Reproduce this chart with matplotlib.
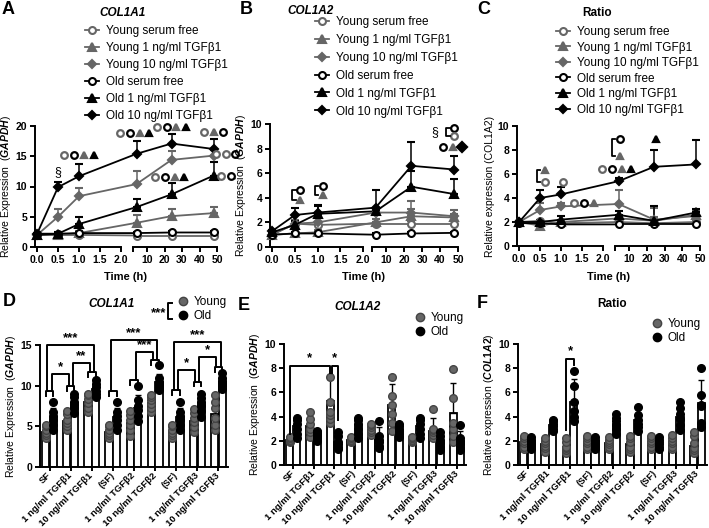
import numpy as np
import matplotlib
matplotlib.use("Agg")
import matplotlib.pyplot as plt
from matplotlib.lines import Line2D
from matplotlib.patches import ConnectionPatch

plt.rcParams['font.family'] = ['Liberation Sans', 'DejaVu Sans']
plt.rcParams['font.weight'] = 'bold'
plt.rcParams['mathtext.fontset'] = 'custom'
plt.rcParams['mathtext.rm'] = 'Liberation Sans:bold'
plt.rcParams['mathtext.bf'] = 'Liberation Sans:bold'
plt.rcParams['mathtext.it'] = 'Liberation Sans:italic:bold'
plt.rcParams['axes.linewidth'] = 1.4
plt.rcParams['xtick.major.width'] = 1.4
plt.rcParams['ytick.major.width'] = 1.4
plt.rcParams['xtick.major.size'] = 3.5
plt.rcParams['ytick.major.size'] = 3.5
plt.rcParams['xtick.major.pad'] = 2
plt.rcParams['ytick.major.pad'] = 2

YOUNG = '#666666'
OLD = 'black'

# ---------------- time course data (panels A-C) ----------------
times = [0, 0.5, 1, 4, 24, 48]
series_labels = ['Young serum free', 'Young 1 ng/ml TGFβ1', 'Young 10 ng/ml TGFβ1',
                 'Old serum free', 'Old 1 ng/ml TGFβ1', 'Old 10 ng/ml TGFβ1']

# A: COL1A1
a_young_sf = [2.0, 2.0, 2.0, 1.9, 1.9, 1.9]
a_young_sf_err = [0.1, 0.1, 0.1, 0.1, 0.1, 0.1]
a_young_1 = [2.0, 2.0, 2.3, 4.0, 5.1, 5.6]
a_young_1_err = [0.1, 0.2, 0.3, 1.3, 1.1, 1.0]
a_young_10 = [2.0, 5.0, 8.4, 10.4, 14.4, 15.1]
a_young_10_err = [0.1, 1.3, 1.4, 2.2, 1.4, 0.9]
a_old_sf = [2.2, 2.2, 2.3, 2.3, 2.4, 2.4]
a_old_sf_err = [0.1, 0.1, 0.2, 0.1, 0.2, 0.2]
a_old_1 = [2.0, 2.2, 3.8, 6.6, 8.7, 11.8]
a_old_1_err = [0.1, 0.2, 1.2, 1.4, 1.8, 2.2]
a_old_10 = [2.2, 9.9, 11.7, 15.4, 17.1, 16.2]
a_old_10_err = [0.1, 0.9, 2.1, 2.2, 1.6, 1.6]

# B: COL1A2
b_young_sf = [1.0, 1.9, 1.8, 1.9, 1.9, 1.9]
b_young_sf_err = [0.1, 0.2, 0.2, 0.1, 0.2, 0.2]
b_young_1 = [1.0, 1.1, 1.2, 2.0, 2.5, 2.4]
b_young_1_err = [0.1, 0.1, 0.2, 0.3, 0.6, 0.3]
b_young_10 = [1.0, 1.9, 2.0, 2.8, 2.8, 2.5]
b_young_10_err = [0.1, 0.3, 0.5, 0.2, 0.9, 0.5]
b_old_sf = [1.0, 1.1, 1.1, 1.0, 1.1, 1.15]
b_old_sf_err = [0.1, 0.1, 0.1, 0.1, 0.1, 0.1]
b_old_1 = [1.2, 1.8, 2.7, 2.9, 4.9, 4.3]
b_old_1_err = [0.1, 0.3, 0.6, 0.3, 1.3, 1.2]
b_old_10 = [1.3, 2.6, 2.8, 3.2, 6.6, 6.3]
b_old_10_err = [0.1, 0.6, 0.6, 1.4, 1.9, 1.1]

# C: ratio
c_young_sf = [2.0, 2.1, 1.9, 2.0, 1.9, 2.0]
c_young_sf_err = [0.1, 0.1, 0.1, 0.1, 0.1, 0.1]
c_young_1 = [2.0, 1.7, 2.0, 2.3, 2.1, 2.6]
c_young_1_err = [0.1, 0.2, 0.2, 0.2, 0.3, 0.3]
c_young_10 = [2.0, 3.0, 3.3, 3.5, 2.2, 2.5]
c_young_10_err = [0.1, 0.6, 0.3, 1.2, 1.0, 0.4]
c_old_sf = [1.9, 1.9, 1.8, 1.8, 1.8, 1.8]
c_old_sf_err = [0.1, 0.1, 0.1, 0.1, 0.1, 0.1]
c_old_1 = [2.0, 2.0, 2.2, 2.6, 2.1, 2.8]
c_old_1_err = [0.1, 0.2, 0.3, 0.3, 1.2, 0.3]
c_old_10 = [2.0, 4.0, 4.3, 5.4, 6.6, 6.8]
c_old_10_err = [0.1, 0.7, 0.6, 0.3, 1.4, 2.0]

# annotation symbols: c/C grey/black circle, t/T grey/black triangle, D black diamond
a_marks = [('L', 1.0, 15.2, 'cCtT'), ('R', 3.0, 18.8, 'cCtT'), ('R', 24, 19.9, 'cCtT'),
           ('R', 48, 19.0, 'ctC'), ('R', 55, 15.3, 'ccC'), ('R', 55, 11.8, 'cC'),
           ('R', 23, 11.5, 'cCtT')]
b_marks = [('L', 0.62, 4.6, 'C'), ('L', 0.62, 3.8, 't'), ('L', 1.12, 5.0, 'C'),
           ('L', 1.12, 4.2, 't'), ('R', 48, 9.7, 'C'), ('R', 48, 9.0, 'c'),
           ('R', 47, 8.1, 'CtD')]
b_brackets = [('L', 0.62, 3.8, 4.6), ('L', 1.12, 4.2, 5.0), ('R', 48, 9.0, 9.7)]
c_marks = [('L', 0.62, 6.3, 't'), ('L', 0.62, 5.3, 'c'), ('L', 1.05, 5.3, 'c'),
           ('L', 1.55, 3.6, 'cCt'), ('R', 5.0, 8.9, 'C'), ('R', 5.0, 7.5, 't'),
           ('R', 3.0, 6.45, 'cCtT'), ('R', 25, 8.9, 'T')]
c_brackets = [('L', 0.62, 5.3, 6.3), ('R', 5.0, 7.5, 8.9)]

# ---------------- bar data (panels D-F) ----------------
groups = ['SF', '1 ng/ml TGFβ1', '10 ng/ml TGFβ1', '(SF)', '1 ng/ml TGFβ2',
          '10 ng/ml TGFβ2', '(SF)', '1 ng/ml TGFβ3', '10 ng/ml TGFβ3']

d_sf_y = [3.6, 3.9, 4.2, 4.5, 5.0, 5.2]
d_sf_o = [4.6, 5.2, 5.8, 6.3, 6.8, 8.0]
d_young = [d_sf_y, [4.5, 5.0, 5.4, 5.8, 6.5, 6.9], [6.8, 7.3, 7.9, 8.3, 8.8, 9.0],
           d_sf_y, [3.8, 4.5, 5.2, 5.8, 6.4, 6.9], [6.8, 7.3, 7.8, 8.2, 8.6, 8.8],
           d_sf_y, [4.3, 4.9, 5.5, 6.0, 6.6, 7.1], [4.5, 5.2, 6.0, 7.2, 8.0, 8.8]]
d_old = [d_sf_o, [6.6, 7.2, 7.6, 8.0, 8.6, 9.0], [8.6, 9.0, 9.4, 9.8, 10.2, 10.7],
         d_sf_o, [5.6, 6.3, 7.0, 7.5, 8.2, 9.9], [9.5, 9.8, 10.1, 10.4, 10.9, 12.5],
         d_sf_o, [6.2, 6.9, 7.5, 8.0, 8.5, 9.0], [9.6, 10.0, 10.3, 10.6, 11.0, 11.6]]
d_young_mean = [4.3, 5.6, 8.0, 4.3, 5.4, 7.9, 4.3, 5.7, 6.5]
d_young_sd = [0.6, 0.9, 0.8, 0.6, 1.1, 0.7, 0.6, 1.0, 1.6]
d_old_mean = [6.1, 7.7, 9.6, 6.1, 7.3, 10.4, 6.1, 7.7, 10.5]
d_old_sd = [1.1, 0.9, 0.8, 1.1, 1.5, 1.0, 1.1, 1.0, 0.7]
d_pair_h = [9.3, 10.0, 11.7, 9.3, 10.7, 13.2, 9.5, 10.5, 12.3]
d_comps = [(0, 2, 15.0, '***'), (0, 1, 11.4, '*'), (1, 2, 12.8, '**'),
           (3, 5, 15.6, '***'), (4, 5, 14.1, '***'),
           (6, 8, 15.4, '***'), (6, 7, 11.9, '*'), (7, 8, 13.5, '*')]

e_sf_y = [1.9, 2.0, 2.1, 2.2, 2.2, 2.3]
e_sf_o = [2.2, 2.6, 3.0, 3.4, 3.7, 3.9]
e_young = [e_sf_y, [2.3, 2.7, 3.0, 3.4, 3.8, 4.4], [3.5, 3.8, 4.1, 4.4, 5.2, 7.3],
           e_sf_y, [2.5, 2.7, 2.9, 3.1, 3.3, 3.4], [2.8, 3.5, 4.2, 5.0, 5.7, 7.3],
           e_sf_y, [2.2, 2.5, 2.7, 2.9, 3.0, 4.6], [1.9, 2.4, 3.0, 3.5, 5.5, 7.9]]
e_old = [e_sf_o, [2.0, 2.2, 2.4, 2.6, 2.7, 2.8], [1.3, 1.5, 1.7, 1.9, 2.4, 2.7],
         e_sf_o, [1.4, 1.6, 1.9, 2.1, 2.4, 3.6], [2.3, 2.6, 2.8, 3.0, 3.2, 3.4],
         e_sf_o, [1.2, 1.5, 1.8, 2.1, 2.4, 2.7], [1.2, 1.4, 1.7, 2.0, 2.2, 3.3]]
e_young_mean = [2.1, 3.2, 5.3, 2.1, 2.9, 5.0, 2.1, 2.8, 4.3]
e_young_sd = [0.1, 0.7, 1.8, 0.1, 0.4, 1.7, 0.1, 1.1, 2.5]
e_old_mean = [3.2, 2.5, 1.9, 3.2, 2.2, 2.9, 3.2, 2.0, 2.0]
e_old_sd = [0.7, 0.3, 0.6, 0.7, 0.9, 0.5, 0.7, 0.6, 0.8]

f_sf_y = [1.3, 1.5, 1.8, 2.0, 2.2, 2.4]
f_sf_o = [1.3, 1.5, 1.7, 1.9, 2.1, 2.3]
f_young = [f_sf_y, [1.1, 1.4, 1.6, 1.8, 2.0, 2.2], [1.0, 1.2, 1.4, 1.5, 1.9, 2.2],
           f_sf_y, [1.3, 1.5, 1.7, 1.9, 2.1, 2.3], [1.1, 1.3, 1.5, 1.9, 2.2, 2.4],
           f_sf_y, [1.3, 1.5, 1.8, 2.0, 2.2, 2.5], [1.0, 1.2, 1.4, 1.8, 2.4, 2.7]]
f_old = [f_sf_o, [2.8, 3.0, 3.2, 3.4, 3.6, 3.7], [3.6, 4.0, 4.5, 5.2, 6.5, 7.8],
         f_sf_o, [2.6, 3.0, 3.3, 3.6, 3.9, 4.2], [2.8, 3.1, 3.4, 3.7, 4.1, 4.8],
         f_sf_o, [2.9, 3.3, 3.8, 4.2, 4.7, 5.2], [3.1, 3.5, 4.9, 5.0, 5.8, 8.0]]
f_young_mean = [1.9, 1.7, 1.5, 1.9, 1.8, 1.7, 1.9, 1.9, 1.6]
f_young_sd = [0.4, 0.4, 0.5, 0.4, 0.4, 0.6, 0.4, 0.5, 0.7]
f_old_mean = [1.9, 3.3, 5.2, 1.9, 3.4, 3.7, 1.9, 4.0, 5.1]
f_old_sd = [0.4, 0.4, 1.9, 0.4, 0.6, 1.0, 0.4, 0.9, 1.9]

# ---------------- figure ----------------
W, H = 709, 528
fig = plt.figure(figsize=(W / 100, H / 100), dpi=100)


def rect(x0, x1, ytop, ybot):
    return [x0 / W, 1 - ybot / H, (x1 - x0) / W, (ybot - ytop) / H]


def fx(px):
    return px / W


def fy(py):
    return 1 - py / H


def xpt(ax, pts):
    # points -> x data units for this axes
    pos = ax.get_position()
    x0, x1 = ax.get_xlim()
    return pts / 72 / (pos.width * fig.get_figwidth()) * (x1 - x0)


SYM = {'c': ('o', YOUNG, 'white'), 'C': ('o', OLD, 'white'),
       't': ('^', YOUNG, YOUNG), 'T': ('^', OLD, OLD), 'D': ('D', OLD, OLD)}
STYLES = [(YOUNG, 'o', 'white', 5), (YOUNG, '^', YOUNG, 5.5), (YOUNG, 'D', YOUNG, 4),
          (OLD, 'o', 'white', 5), (OLD, '^', OLD, 5.5), (OLD, 'D', OLD, 4)]


def symbols(ax, x, y, code):
    n = len(code)
    d = xpt(ax, 7)
    for k, ch in enumerate(code):
        mk, ec, fc = SYM[ch]
        ax.plot(x + (k - (n - 1) / 2) * d, y, marker=mk, ms=4.8, mec=ec, mfc=fc,
                mew=1.6, ls='none', clip_on=False, zorder=6)


def bracket(ax, x, y0, y1):
    d = xpt(ax, 6)
    s = xpt(ax, 2.5)
    ax.plot([x - d + s, x - d, x - d, x - d + s], [y0, y0, y1, y1], color='black',
            lw=1.3, clip_on=False, zorder=6)


def time_panel(rl, rr, ymax, yticks, data, ylabel, marks, brackets):
    axL = fig.add_axes(rl)
    axR = fig.add_axes(rr)
    axL.set_xlim(-0.05, 2)
    axR.set_xlim(2, 50)
    for ax in (axL, axR):
        ax.set_ylim(0, ymax)
        ax.spines['top'].set_visible(False)
        ax.spines['right'].set_visible(False)
        ax.tick_params(labelsize=7.5)
    axR.spines['left'].set_visible(False)
    axR.tick_params(axis='y', left=False, labelleft=False)
    axL.set_yticks(yticks)
    axL.set_xticks([0, 0.5, 1, 1.5, 2])
    axL.set_xticklabels(['0.0', '0.5', '1.0', '1.5', '2.0'])
    axR.set_xticks([2, 10, 20, 30, 40, 50])
    axR.set_xticklabels(['', '10', '20', '30', '40', '50'])
    axL.set_ylabel(ylabel, fontsize=7.5, labelpad=2)

    t = np.array(times)
    left = t <= 2
    right = t > 2
    for (vals, errs), (col, mk, mfc, ms) in zip(data, STYLES):
        v = np.array(vals)
        e = np.array(errs)
        for ax, m in ((axL, left), (axR, right)):
            ax.errorbar(t[m], v[m], yerr=[np.zeros(m.sum()), e[m]], color=col, marker=mk,
                        mfc=mfc, mec=col, ms=ms, mew=1.5, lw=1.3, elinewidth=1.1,
                        capsize=3, capthick=1.1, clip_on=False, zorder=3)
        con = ConnectionPatch(xyA=(t[left][-1], v[left][-1]), coordsA=axL.transData,
                              xyB=(t[right][0], v[right][0]), coordsB=axR.transData,
                              color=col, lw=1.3, zorder=2)
        axL.add_artist(con)

    for side, x, y, code in marks:
        symbols(axL if side == 'L' else axR, x, y, code)
    for side, x, y0, y1 in brackets:
        bracket(axL if side == 'L' else axR, x, y0, y1)

    mid = (rl[0] + rr[0] + rr[2]) / 2
    fig.text(mid, fy(277), 'Time (h)', ha='center', va='center', fontsize=8)
    return axL, axR


def legend_lines(x, ytop, spacing):
    handles = [Line2D([], [], color=col, marker=mk, mfc=mfc, mec=col, ms=ms, mew=1.5, lw=1.3)
               for col, mk, mfc, ms in STYLES]
    fig.legend(handles, series_labels, loc='upper left', bbox_to_anchor=(fx(x), fy(ytop)),
               frameon=False, borderpad=0, borderaxespad=0, handlelength=1.2,
               handletextpad=0.6, labelspacing=spacing,
               prop={'size': 8.5, 'weight': 'normal'})


# ---- A ----
axA, axA2 = time_panel(rect(35, 121, 126, 247), rect(133, 217, 126, 247), 20, [0, 5, 10, 15, 20],
                       [(a_young_sf, a_young_sf_err), (a_young_1, a_young_1_err),
                        (a_young_10, a_young_10_err), (a_old_sf, a_old_sf_err),
                        (a_old_1, a_old_1_err), (a_old_10, a_old_10_err)],
                       r'Relative Expression  ($\it{GAPDH}$)', a_marks, [])
axA.text(0.5, 12.3, '§', ha='center', va='center', fontsize=9, fontweight='normal')
legend_lines(85, 25, 0.42)

# ---- B ----
axB, axB2 = time_panel(rect(270, 363, 124, 247), rect(372, 458, 124, 247), 10, [0, 2, 4, 6, 8, 10],
                       [(b_young_sf, b_young_sf_err), (b_young_1, b_young_1_err),
                        (b_young_10, b_young_10_err), (b_old_sf, b_old_sf_err),
                        (b_old_1, b_old_1_err), (b_old_10, b_old_10_err)],
                       r'Relative Expression  ($\it{GAPDH}$)', b_marks, b_brackets)
axB2.text(48 - xpt(axB2, 14), 9.35, '§', ha='center', va='center', fontsize=9,
          fontweight='normal', clip_on=False)
legend_lines(315, 16, 0.5)

# ---- C ----
axC, axC2 = time_panel(rect(517, 603, 126, 246), rect(615, 700, 126, 246), 10, [0, 2, 4, 6, 8, 10],
                       [(c_young_sf, c_young_sf_err), (c_young_1, c_young_1_err),
                        (c_young_10, c_young_10_err), (c_old_sf, c_old_sf_err),
                        (c_old_1, c_old_1_err), (c_old_10, c_old_10_err)],
                       'Relative expression (COL1A2)', c_marks, c_brackets)
legend_lines(556, 26, 0.3)


# ---- bar panels ----
def bar_panel(rc, young_pts, old_pts, ym, ysd, om, osd, ymax, yticks, ylabel):
    ax = fig.add_axes(rc)
    g = np.arange(len(groups))
    xy, xo = g - 0.18, g + 0.18
    n = len(g)
    ax.bar(xy, ym, 0.34, color='white', edgecolor='black', lw=1.3, zorder=1)
    ax.bar(xo, om, 0.34, color='white', edgecolor='black', lw=1.3, zorder=1)
    ax.errorbar(xy, ym, yerr=[np.zeros(n), ysd], fmt='none', ecolor='black',
                elinewidth=1, capsize=2.5, capthick=1, zorder=2)
    ax.errorbar(xo, om, yerr=[np.zeros(n), osd], fmt='none', ecolor='black',
                elinewidth=1, capsize=2.5, capthick=1, zorder=2)
    for i in range(n):
        ax.plot(np.full(len(young_pts[i]), xy[i]), young_pts[i], 'o', color=YOUNG,
                mec='#444444', ms=5.5, zorder=3, clip_on=False)
        ax.plot(np.full(len(old_pts[i]), xo[i]), old_pts[i], 'o', color=OLD,
                ms=5.5, zorder=3, clip_on=False)
    ax.set_xlim(-0.45, n - 0.55)
    ax.set_ylim(0, ymax)
    ax.set_yticks(yticks)
    ax.set_xticks(g)
    ax.set_xticklabels(groups, rotation=45, ha='right', va='center', rotation_mode='anchor')
    ax.tick_params(axis='y', labelsize=7.5)
    ax.tick_params(axis='x', labelsize=6.8, length=3, pad=2)
    ax.spines['top'].set_visible(False)
    ax.spines['right'].set_visible(False)
    ax.set_ylabel(ylabel, fontsize=7.5, labelpad=2)
    return ax, xy, xo


def legend_dots(x, ytop):
    handles = [Line2D([], [], ls='none', marker='o', color=YOUNG, mec='#444444', ms=6),
               Line2D([], [], ls='none', marker='o', color=OLD, ms=6)]
    fig.legend(handles, ['Young', 'Old'], loc='upper left', bbox_to_anchor=(fx(x), fy(ytop)),
               frameon=False, borderpad=0, borderaxespad=0, handlelength=1.0,
               handletextpad=0.4, labelspacing=0.15, prop={'size': 8.5, 'weight': 'normal'})


# D
axD, dxy, dxo = bar_panel(rect(40, 228, 345, 467), d_young, d_old, d_young_mean, d_young_sd,
                          d_old_mean, d_old_sd, 15, [0, 5, 10, 15],
                          r'Relative Expression  ($\it{GAPDH}$)')
for i, h in enumerate(d_pair_h):
    axD.plot([dxy[i], dxy[i], dxo[i], dxo[i]], [h - 0.6, h, h, h - 0.6], color='black',
             lw=1.4, clip_on=False, zorder=4)
for i, j, y, lab in d_comps:
    adj = (j - i) == 1
    lx = i + (0.1 if adj else -0.1)
    rx = j + (-0.1 if adj else 0.1)
    axD.plot([lx, lx, rx, rx], [d_pair_h[i], y, y, d_pair_h[j]], color='black', lw=1.4,
             clip_on=False, zorder=4)
    axD.text((lx + rx) / 2, y + 0.1, lab, ha='center', va='bottom', fontsize=9.5)
legend_dots(177, 296)
fig.add_artist(Line2D([fx(172), fx(168), fx(168), fx(172)], [fy(303), fy(303), fy(319), fy(319)],
                      color='black', lw=1.4, transform=fig.transFigure))
fig.text(fx(166), fy(313), '***', ha='right', va='center', fontsize=9.5)

# E
axE, exy, exo = bar_panel(rect(284, 466, 344, 465), e_young, e_old, e_young_mean, e_young_sd,
                          e_old_mean, e_old_sd, 10, [0, 2, 4, 6, 8, 10],
                          r'Relative Expression  ($\it{GAPDH}$)')
e_comps = [(exy[0], exy[2], 8.2, 2.6, 7.6), (exy[2] + 0.08, exo[2], 8.2, 7.6, 3.7)]
for lx, rx, y, l0, l1 in e_comps:
    axE.plot([lx, lx, rx, rx], [l0, y, y, l1], color='black', lw=1.4, clip_on=False, zorder=4)
    axE.text((lx + rx) / 2, y + 0.1, '*', ha='center', va='bottom', fontsize=9.5)
legend_dots(414, 312)

# F
axF, fxy, fxo = bar_panel(rect(518, 707, 344, 465), f_young, f_old, f_young_mean, f_young_sd,
                          f_old_mean, f_old_sd, 10, [0, 2, 4, 6, 8, 10],
                          r'Relative expression ($\it{COL1A2}$)')
axF.plot([fxy[2], fxy[2], fxo[2], fxo[2]], [2.9, 8.8, 8.8, 8.3], color='black', lw=1.4,
         clip_on=False, zorder=4)
axF.text(2, 8.9, '*', ha='center', va='bottom', fontsize=9.5)
legend_dots(651, 318)

# panel letters and titles
for lab, x, y in [('A', 2, 10), ('B', 240, 9), ('C', 477, 10), ('D', 3, 301),
                  ('E', 238, 305), ('F', 477, 304)]:
    fig.text(fx(x), fy(y), lab, ha='left', va='center', fontsize=13, fontweight='bold')
for lab, x, y, style in [('COL1A1', 123, 13, 'italic'), ('COL1A2', 311, 11, 'italic'),
                         ('Ratio', 597, 13, 'normal'), ('COL1A1', 112, 304, 'italic'),
                         ('COL1A2', 358, 307, 'italic'), ('Ratio', 612, 304, 'normal')]:
    fig.text(fx(x), fy(y), lab, ha='center', va='center', fontsize=8.5, fontweight='bold',
             fontstyle=style)

fig.savefig('out.png', dpi=100)
